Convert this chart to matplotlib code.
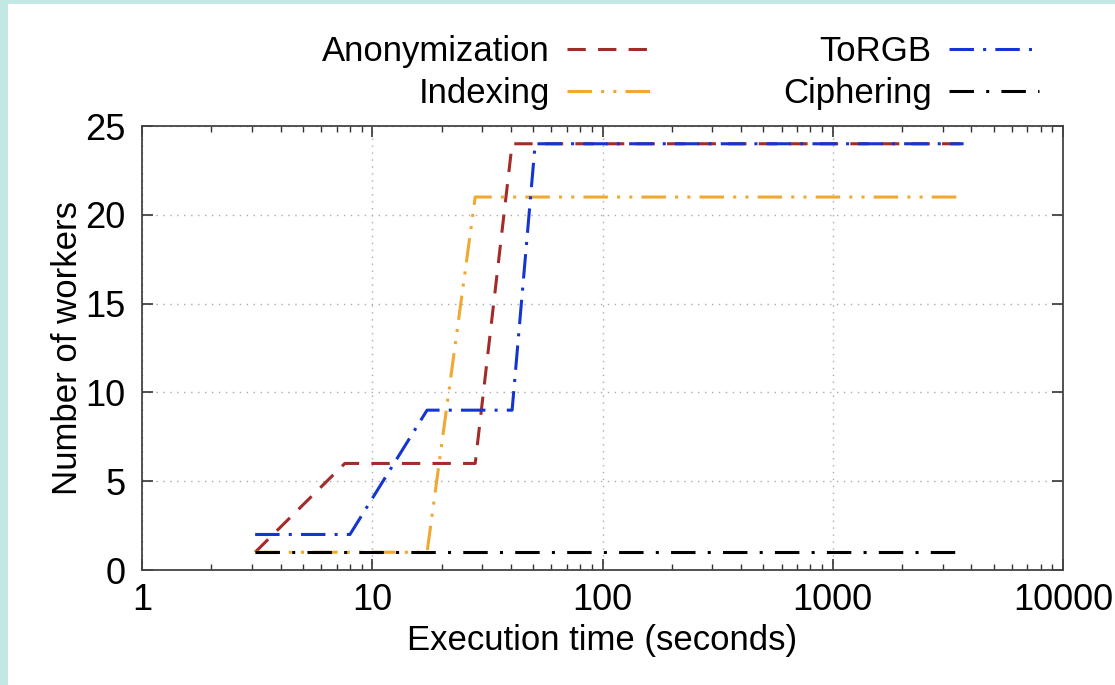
import numpy as np
import matplotlib
matplotlib.use("Agg")
import matplotlib.pyplot as plt
from matplotlib.patches import Rectangle
from matplotlib.ticker import FixedLocator, LogLocator, NullFormatter

plt.rcParams['font.family'] = ['Liberation Sans', 'DejaVu Sans']
plt.rcParams['font.size'] = 25

# datos (tiempo en segundos, numero de workers)
anon_t = [3.1, 7.6, 28, 40.5, 3700]
anon_w = [1, 6, 6, 24, 24]
torgb_t = [3.1, 8.0, 17.3, 40.5, 51, 3700]
torgb_w = [2, 2, 9, 9, 24, 24]
index_t = [3.1, 17.3, 28, 3700]
index_w = [1, 1, 21, 21]
ciph_t = [3.1, 3500]
ciph_w = [1, 1]

fig = plt.figure(figsize=(11.15, 6.85), dpi=100)
fig.patch.set_facecolor("#c2e8e6")
fig.add_artist(Rectangle((8/1115, 0), 1, 1-4/685, transform=fig.transFigure,
                         facecolor="white", edgecolor="none", zorder=-5))
ax = fig.add_axes([142/1115, 115/685, 921/1115, 444/685])

ax.plot(anon_t, anon_w, color="#a52a2a", lw=2.2, dashes=(6, 4), label="Anonymization")
ax.plot(index_t, index_w, color="#f0a830", lw=2.2, dashes=(8, 3, 1, 3, 1, 3), label="Indexing")
ax.plot(torgb_t, torgb_w, color="#1535d0", lw=2.2, dashes=(8, 3, 1, 3), label="ToRGB")
ax.plot(ciph_t, ciph_w, color="black", lw=2.2, dashes=(8, 4, 1, 4), label="Ciphering")

ax.set_xscale("log")
ax.set_xlim(1, 10000)
ax.set_ylim(0, 25)
ax.xaxis.set_major_locator(FixedLocator([1, 10, 100, 1000, 10000]))
ax.set_xticklabels(["1", "10", "100", "1000", "10000"])
ax.xaxis.set_minor_locator(LogLocator(base=10, subs=np.arange(2, 10)))
ax.xaxis.set_minor_formatter(NullFormatter())
ax.set_yticks([0, 5, 10, 15, 20, 25])
ax.grid(True, which="major", color="#aaaaaa", linestyle=(0, (1, 4)), lw=1)
ax.tick_params(which="both", direction="in", top=True, right=True, color="#333333")
ax.tick_params(which="major", length=8, width=1.2, labelsize=26)
ax.tick_params(which="minor", length=4, width=1)
ax.tick_params(axis="x", which="major", pad=9)
ax.tick_params(axis="y", which="major", pad=12)
for s in ax.spines.values():
    s.set_color("#444444")
    s.set_linewidth(1.3)

ax.set_xlabel("Execution time (seconds)", labelpad=5)
ax.set_ylabel("Number of workers", labelpad=1)

fig.legend(loc="upper right", bbox_to_anchor=(0.96, 0.995), ncol=2, frameon=False,
           markerfirst=False, handlelength=2.6, columnspacing=3.6, labelspacing=0.28,
           handletextpad=0.5, fontsize=25)

fig.savefig("out.png", dpi=100)
